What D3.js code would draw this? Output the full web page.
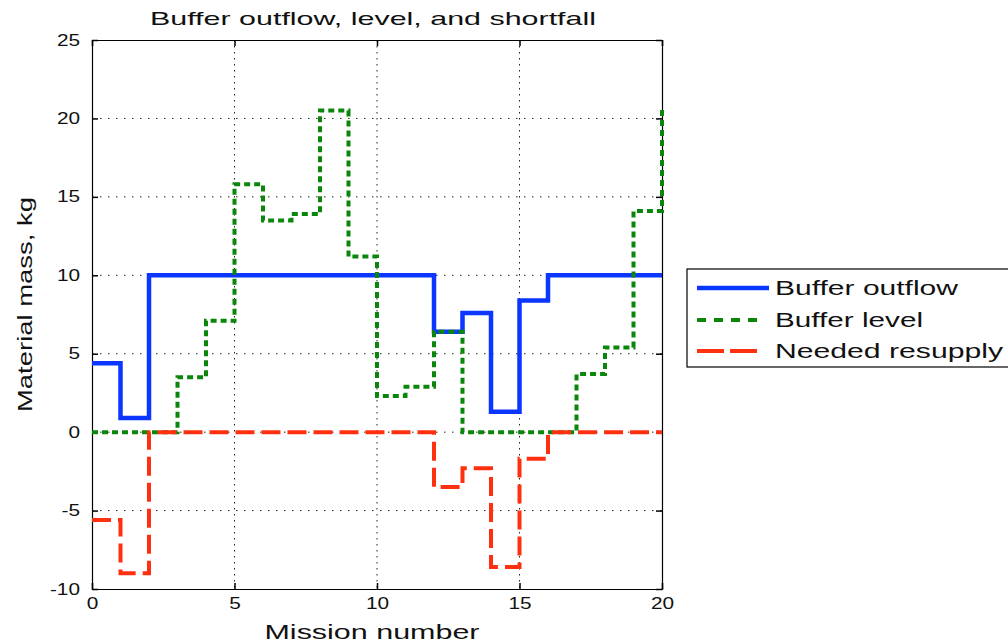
<!DOCTYPE html>
<html><head><meta charset="utf-8">
<script src="https://cdn.jsdelivr.net/npm/d3@7"></script>
<style>html,body{margin:0;padding:0;background:#fff;}svg{display:block;font-family:"Liberation Sans",Arial,sans-serif;}</style>
</head><body>
<svg id="c" width="1008" height="643"></svg>
<script>
const missions = d3.range(0, 21);
const outflow  = [4.4, 0.9, 10, 10, 10, 10, 10, 10, 10, 10, 10, 10, 6.4, 7.6, 1.3, 8.4, 10, 10, 10, 10, 10];
const level    = [0, 0, 0, 3.5, 7.1, 15.8, 13.5, 13.9, 20.5, 11.2, 2.3, 2.9, 6.4, 0, 0, 0, 0, 3.7, 5.4, 14.1, 20.6];
const resupply = [-5.6, -9.0, 0, 0, 0, 0, 0, 0, 0, 0, 0, 0, -3.5, -2.3, -8.6, -1.7, 0, 0, 0, 0, 0];
const xTicks = [0, 5, 10, 15, 20];
const yTicks = [-10, -5, 0, 5, 10, 15, 20, 25];
const seriesNames = ["Buffer outflow", "Buffer level", "Needed resupply"];

const svg = d3.select("#c");
const L = 92, R = 662, T = 40, B = 589;
const x = d3.scaleLinear().domain([0, 20]).range([L, R]);
const y = d3.scaleLinear().domain([-10, 25]).range([B, T]);

function stretch(sel, w) {
  sel.each(function(){ this.setAttribute("textLength", w); this.setAttribute("lengthAdjust", "spacingAndGlyphs"); });
}
function stretchFactor(sel, f) {
  sel.each(function(){ const l = this.getComputedTextLength(); this.setAttribute("textLength", l * f); this.setAttribute("lengthAdjust", "spacingAndGlyphs"); });
}

// grid
const g = svg.append("g");
g.selectAll(".gx").data(xTicks.slice(1, -1)).join("line")
  .attr("x1", d => x(d)).attr("x2", d => x(d)).attr("y1", T).attr("y2", B)
  .attr("stroke", "#222").attr("stroke-width", 1).attr("stroke-dasharray", "1.5,4.5");
g.selectAll(".gy").data(yTicks.slice(1, -1)).join("line")
  .attr("y1", d => y(d)).attr("y2", d => y(d)).attr("x1", L).attr("x2", R)
  .attr("stroke", "#222").attr("stroke-width", 1).attr("stroke-dasharray", "1.5,6.5");

// axes (inward ticks)
const fmt = d => String(d);
const axB = d3.axisBottom(x).tickValues(xTicks).tickSize(-6).tickPadding(9).tickFormat(fmt);
const axT = d3.axisTop(x).tickValues(xTicks).tickSize(-6).tickFormat("");
const axL = d3.axisLeft(y).tickValues(yTicks).tickSize(-6).tickPadding(12).tickFormat(fmt);
const axR = d3.axisRight(y).tickValues(yTicks).tickSize(-6).tickFormat("");
function styleAxis(s) {
  s.select(".domain").attr("stroke", "#000").attr("stroke-width", 1.2);
  s.selectAll(".tick line").attr("stroke", "#000").attr("stroke-width", 1.5);
  s.selectAll("text").attr("fill", "#111").attr("font-size", 16);
}
const gB = svg.append("g").attr("transform", `translate(0,${B})`).call(axB).call(styleAxis);
svg.append("g").attr("transform", `translate(0,${T})`).call(axT).call(styleAxis);
const gL = svg.append("g").attr("transform", `translate(${L},0)`).call(axL).call(styleAxis);
svg.append("g").attr("transform", `translate(${R},0)`).call(axR).call(styleAxis);
gB.selectAll("text").attr("dy", "0.71em");
stretchFactor(gB.selectAll("text"), 1.3);
stretchFactor(gL.selectAll("text"), 1.3);

// lines
const line = vals => d3.line().curve(d3.curveStepAfter).x((d, i) => x(missions[i])).y(d => y(d))(vals);
const styles = [
  {vals: outflow,  color: "#0a36ff", dash: null,   w: 4.5},
  {vals: level,    color: "#0a870a", dash: "6,4",  w: 4},
  {vals: resupply, color: "#ff3010", dash: "19,7", w: 4}
];
svg.append("defs").append("clipPath").attr("id", "clp").append("rect")
  .attr("x", L - 3).attr("y", T - 3).attr("width", R - L + 6).attr("height", B - T + 6);
const lg = svg.append("g").attr("clip-path", "url(#clp)");
styles.forEach(s => {
  lg.append("path").attr("d", line(s.vals)).attr("fill", "none")
    .attr("stroke", s.color).attr("stroke-width", s.w)
    .attr("stroke-dasharray", s.dash).attr("stroke-linejoin", "miter").attr("stroke-linecap", "butt");
});

// title & labels
svg.append("text").attr("x", 373).attr("y", 25).attr("text-anchor", "middle").attr("font-size", 19).attr("fill", "#111")
  .text("Buffer outflow, level, and shortfall").call(stretch, 446);
svg.append("text").attr("x", 372).attr("y", 639).attr("text-anchor", "middle").attr("font-size", 20).attr("fill", "#111")
  .text("Mission number").call(stretch, 215);
svg.append("text").attr("transform", `translate(32,${(T + B) / 2 - 10}) rotate(-90)`).attr("text-anchor", "middle")
  .attr("font-size", 20).attr("fill", "#111").text("Material mass, kg").call(stretch, 215);

// legend
const leg = svg.append("g");
leg.append("rect").attr("x", 687).attr("y", 269).attr("width", 340).attr("height", 98)
  .attr("fill", "#fff").attr("stroke", "#000").attr("stroke-width", 1.2);
const legW = [183, 148, 228];
const rowY = [288, 320, 351];
styles.forEach((s, i) => {
  leg.append("line").attr("x1", 697).attr("x2", i === 0 ? 769 : 757).attr("y1", rowY[i]).attr("y2", rowY[i])
    .attr("stroke", s.color).attr("stroke-width", s.w).attr("stroke-dasharray", i === 1 ? "9,8" : i === 2 ? "27,6" : null);
  leg.append("text").attr("x", 775).attr("y", rowY[i] + 7).attr("font-size", 20).attr("fill", "#111")
    .text(seriesNames[i]).call(stretch, legW[i]);
});
</script>
</body></html>
